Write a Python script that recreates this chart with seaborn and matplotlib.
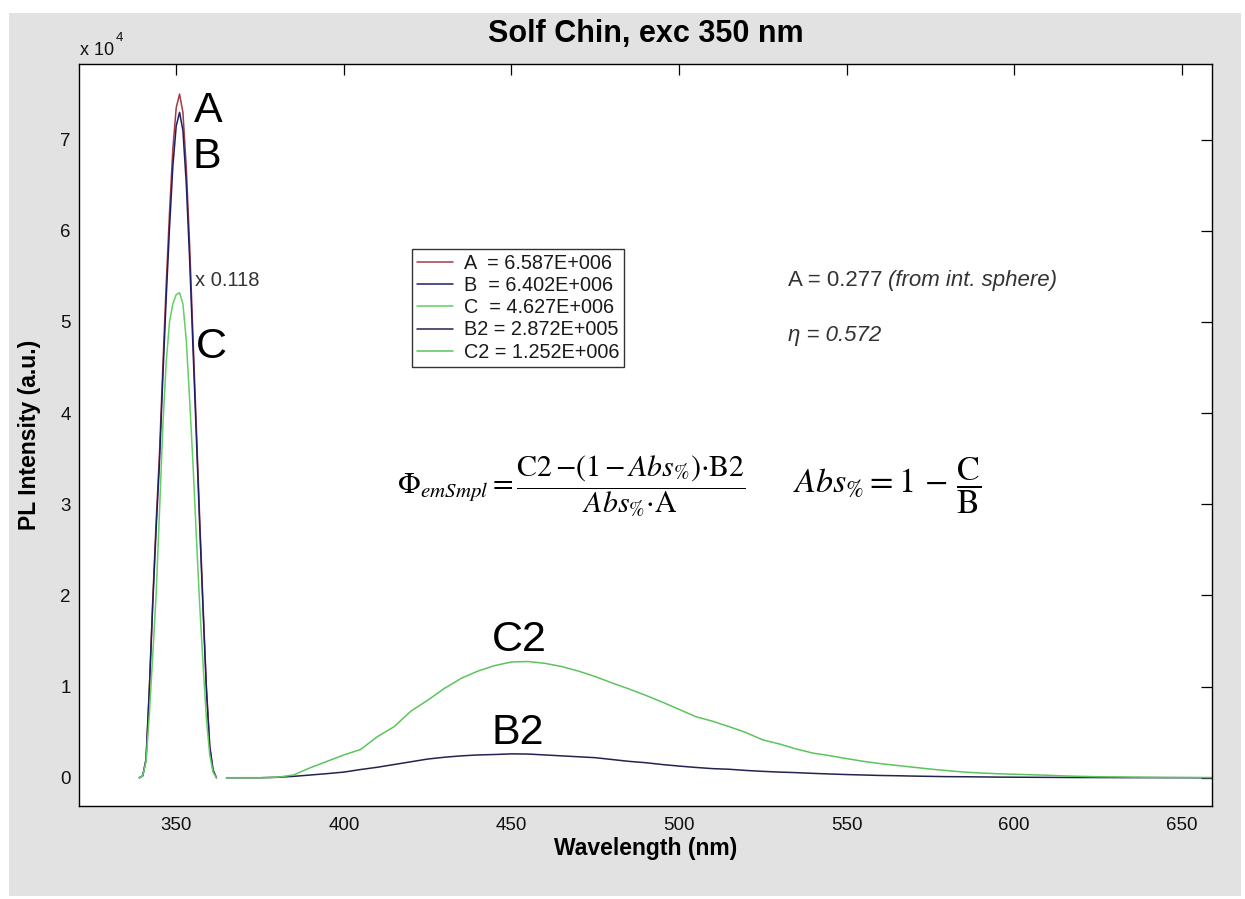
import matplotlib
matplotlib.use("Agg")
import matplotlib.pyplot as plt
import seaborn as sns
import pandas as pd
from matplotlib.patches import Rectangle

# ---------------- data ----------------
wl_peak = [339, 340, 341, 342, 343, 344, 345, 346, 347, 348, 349, 350,
           351, 352, 353, 354, 355, 356, 357, 358, 359, 360, 361, 362]
A_vals = [0, 200, 2000, 10000, 19500, 28000, 35500, 45000, 54000, 62000, 69000, 73500,
          75000, 73000, 67000, 58500, 48500, 38500, 28500, 19000, 10000, 3500, 800, 0]
B_vals = [0, 200, 2000, 9700, 19000, 27200, 34500, 43800, 52500, 60300, 67100, 71500,
          73000, 71000, 65200, 56900, 47200, 37500, 27700, 18500, 9700, 3400, 800, 0]
C_vals = [0, 200, 1800, 7000, 13500, 20000, 29000, 38500, 45500, 50000, 52000, 53000,
          53200, 52000, 48000, 41500, 34500, 26500, 19000, 12500, 6500, 2500, 600, 0]

wl_em = [365, 370, 375, 380, 385, 390, 395, 400, 405, 410, 415, 420, 425, 430, 435,
         440, 445, 450, 455, 460, 465, 470, 475, 480, 485, 490, 495, 500, 505, 510,
         515, 520, 525, 530, 535, 540, 545, 550, 555, 560, 565, 570, 575, 580, 585,
         590, 595, 600, 605, 610, 615, 620, 625, 630, 635, 640, 645, 650, 655, 660]
C2_vals = [0, 0, 0, 50, 300, 1100, 1800, 2500, 3100, 4500, 5600, 7300, 8500, 9800, 10900,
           11700, 12300, 12700, 12750, 12550, 12200, 11700, 11100, 10400, 9750, 9050, 8300, 7500, 6700, 6200,
           5600, 4950, 4150, 3700, 3150, 2700, 2420, 2100, 1800, 1550, 1350, 1150, 950, 780, 620,
           520, 440, 380, 330, 270, 200, 150, 110, 90, 70, 55, 40, 30, 20, 15]
B2_vals = [0, 0, 0, 50, 150, 300, 450, 620, 900, 1150, 1450, 1750, 2050, 2250, 2400,
           2500, 2550, 2620, 2600, 2500, 2400, 2300, 2200, 2000, 1800, 1650, 1450, 1280, 1130, 1000,
           930, 800, 700, 620, 560, 480, 410, 350, 300, 250, 220, 180, 150, 120, 110,
           90, 70, 60, 50, 40, 30, 25, 20, 15, 10, 10, 5, 5, 0, 0]

legend_labels = ["A  = 6.587E+006", "B  = 6.402E+006", "C  = 4.627E+006",
                 "B2 = 2.872E+005", "C2 = 1.252E+006"]
x_ticks = [350, 400, 450, 500, 550, 600, 650]
y_ticks = [0, 10000, 20000, 30000, 40000, 50000, 60000, 70000]
y_tick_labels = ["0", "1", "2", "3", "4", "5", "6", "7"]

colors = {"A": "#a33b45", "B": "#1f1f66", "C": "#62d062", "B2": "#23234f", "C2": "#5cc45c"}

# ---------------- style ----------------
sns.set_style("white")
plt.rcParams["font.family"] = ["Liberation Sans", "DejaVu Sans"]
plt.rcParams["mathtext.fontset"] = "stix"
plt.rcParams["text.color"] = "black"
plt.rcParams["axes.labelcolor"] = "black"

fig = plt.figure(figsize=(12.45, 8.99), dpi=100, facecolor="white")
W, H = 1245, 899
fig.patches.append(Rectangle((9 / W, 1 - 896 / H), (1241 - 9) / W, (896 - 13) / H,
                             transform=fig.transFigure, facecolor="#e2e2e2",
                             edgecolor="none", zorder=-10))

ax = fig.add_axes([79 / W, 1 - 806 / H, (1212 - 79) / W, (806 - 64) / H])
ax.set_facecolor("white")

series = [("A", wl_peak, A_vals), ("B", wl_peak, B_vals), ("C", wl_peak, C_vals),
          ("B2", wl_em, B2_vals), ("C2", wl_em, C2_vals)]
for (name, xs, ys), lab in zip(series, legend_labels):
    df = pd.DataFrame({"wl": xs, "I": ys})
    sns.lineplot(data=df, x="wl", y="I", ax=ax, color=colors[name], linewidth=1.1,
                 label=lab, sort=False, estimator=None)

ax.set_xlim(321, 659)
ax.set_ylim(-3100, 78300)
ax.set_xticks(x_ticks)
ax.set_xticklabels([str(v) for v in x_ticks])
ax.set_yticks(y_ticks)
ax.set_yticklabels(y_tick_labels)
ax.tick_params(direction="in", top=True, right=True, length=8, width=0.9,
               color="black", labelsize=13.5, labelcolor="#111111")
ax.tick_params(axis="x", pad=8)
ax.tick_params(axis="y", pad=6)
for s in ax.spines.values():
    s.set_color("black")
    s.set_linewidth(1.0)

ax.set_xlabel("Wavelength (nm)", fontsize=16.5, fontweight="bold", labelpad=2, color="black")
ax.set_ylabel("PL Intensity (a.u.)", fontsize=16.5, fontweight="bold", labelpad=14, color="black")
ax.set_title("Solf Chin, exc 350 nm", fontsize=22, fontweight="bold", pad=16, color="black")

# exponent label
fig.text(80 / W, 1 - 55 / H, "x 10", fontsize=13, color="#111111", ha="left", va="baseline")
fig.text(116 / W, 1 - 41 / H, "4", fontsize=9.5, color="#111111", ha="left", va="baseline")

# legend
leg = ax.legend(loc="upper left", bbox_to_anchor=((412 - 79) / 1133, (806 - 249) / 742),
                borderaxespad=0, fontsize=14.3, frameon=True, fancybox=False,
                handlelength=1.8, handletextpad=0.55, labelspacing=0.16, borderpad=0.25)
leg.get_frame().set_edgecolor("black")
leg.get_frame().set_linewidth(1.0)
for t in leg.get_texts():
    t.set_color("#1a1a1a")

# curve labels
big = dict(fontsize=31, color="black", ha="left", va="baseline")
ax.text(355.4, 71900, "A", **big)
ax.text(354.8, 66850, "B", **big)
ax.text(356.0, 46100, "C", **big)
ax.text(444.2, 13940, "C2", **big)
ax.text(444.0, 3730, "B2", **big)
ax.text(355.7, 54000, "x 0.118", fontsize=14.5, color="#333333", ha="left", va="baseline")

# annotations
t1 = ax.text((788 - 79) / 1133, (806 - 286) / 742, "A = 0.277", fontsize=16, color="#333333",
             transform=ax.transAxes, ha="left", va="baseline")
fig.canvas.draw()
bb = t1.get_window_extent()
x_after = ax.transAxes.inverted().transform((bb.x1 + 6, bb.y0))[0]
ax.text(x_after, (806 - 286) / 742, "(from int. sphere)", fontsize=16,
        color="#333333", style="italic", transform=ax.transAxes, ha="left", va="baseline")
ax.text((788 - 79) / 1133, (806 - 341) / 742, "η = 0.572", fontsize=16, color="#333333",
        style="italic", transform=ax.transAxes, ha="left", va="baseline")

eq1 = (r"$\Phi_{emSmpl} = \dfrac{\mathrm{C2}\,{-}\left(1\,{-}\,Abs_{\%}\right){\cdot}\mathrm{B2}}"
       r"{Abs_{\%}{\cdot}\mathrm{A}}$")
eq2 = r"$Abs_{\%} = 1\,-\,\dfrac{\mathrm{C}}{\mathrm{B}}$"
ax.text((397 - 79) / 1133, (806 - 486) / 742, eq1, fontsize=21.5, color="black",
        transform=ax.transAxes, ha="left", va="center")
ax.text((793 - 79) / 1133, (806 - 486) / 742, eq2, fontsize=24.5, color="black",
        transform=ax.transAxes, ha="left", va="center")

fig.savefig("out.png", dpi=100, facecolor="white")
